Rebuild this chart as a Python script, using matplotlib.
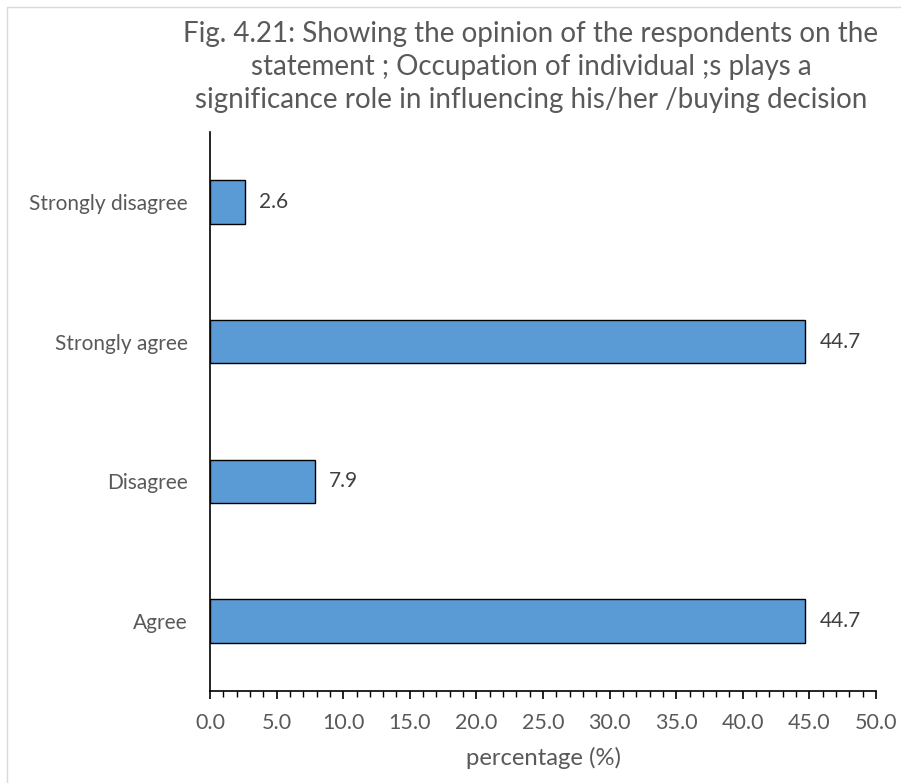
import matplotlib
matplotlib.use("Agg")
import matplotlib.pyplot as plt
from matplotlib.patches import Rectangle
from matplotlib.ticker import MultipleLocator, FormatStrFormatter

categories = ["Agree", "Disagree", "Strongly agree", "Strongly disagree"]
values = [44.7, 7.9, 44.7, 2.6]
title = ("Fig. 4.21: Showing the opinion of the respondents on the\n"
         "statement ; Occupation of individual ;s plays a\n"
         "significance role in influencing his/her /buying decision")

plt.rcParams['font.family'] = ['Lato', 'DejaVu Sans']
TXT = '#595959'

fig = plt.figure(figsize=(9.01, 7.83), dpi=100)
# outer chart border
fig.patches.append(Rectangle((7/901, -0.01), 1.0, (783-7)/783 + 0.01,
                             transform=fig.transFigure, fill=False,
                             edgecolor='#D9D9D9', linewidth=1.0))

ax = fig.add_axes([210/901, (783-691)/783, 666/901, (691-132)/783])
y = list(range(len(categories)))
ax.barh(y, values, height=0.31, color='#5B9BD5', edgecolor='black', linewidth=1.0)
ax.set_ylim(-0.5, 3.5)
ax.set_xlim(0, 50)
ax.set_yticks(y)
ax.set_yticklabels(categories, fontsize=15, color=TXT)
ax.tick_params(axis='y', length=0, pad=16)
ax.xaxis.set_major_locator(MultipleLocator(5))
ax.xaxis.set_minor_locator(MultipleLocator(1))
ax.xaxis.set_major_formatter(FormatStrFormatter('%.1f'))
ax.tick_params(axis='x', which='major', length=6, width=1.2, color='black',
               labelsize=15.5, labelcolor=TXT, pad=10)
ax.tick_params(axis='x', which='minor', length=4, width=1.0, color='black')
for s in ['top', 'right']:
    ax.spines[s].set_visible(False)
ax.spines['left'].set_linewidth(1.2)
ax.spines['bottom'].set_linewidth(1.2)
ax.set_xlabel('percentage (%)', fontsize=17.2, color=TXT, labelpad=10)

for yi, v in zip(y, values):
    ax.annotate(f'{v:.1f}', (v, yi), xytext=(10, 0), textcoords='offset points',
                va='center', ha='left', fontsize=15, color='#404040')

fig.text(531/901, 1 - 67/783, title, ha='center', va='center', fontsize=20,
         color=TXT, linespacing=1.33)

fig.savefig('out.png', dpi=100)
